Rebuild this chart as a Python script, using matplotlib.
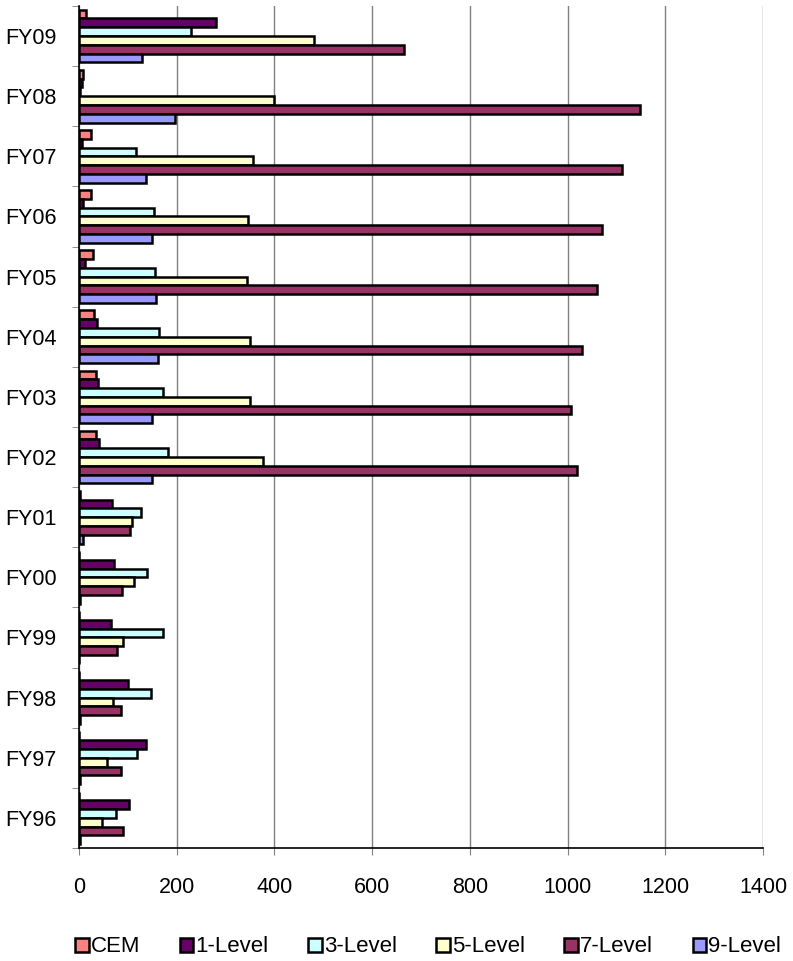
import numpy as np
import matplotlib.pyplot as plt

plt.rcParams['font.family'] = ['Liberation Sans', 'DejaVu Sans']

years = ["FY09", "FY08", "FY07", "FY06", "FY05", "FY04", "FY03",
         "FY02", "FY01", "FY00", "FY99", "FY98", "FY97", "FY96"]
series = ["CEM", "1-Level", "3-Level", "5-Level", "7-Level", "9-Level"]
colors = ["#FF8080", "#660066", "#CCFFFF", "#FFFFCC", "#993366", "#9999FF"]

cem = [15, 9, 25, 25, 28, 30, 35, 35, 2, 1, 1, 1, 0, 0]
lvl1 = [281, 6, 6, 9, 13, 37, 39, 41, 68, 71, 66, 101, 138, 103]
lvl3 = [230, 3, 116, 153, 155, 163, 171, 183, 126, 139, 172, 148, 118, 76]
lvl5 = [481, 399, 357, 346, 344, 351, 351, 376, 109, 113, 90, 69, 57, 47]
lvl7 = [666, 1148, 1112, 1070, 1060, 1030, 1008, 1020, 104, 88, 77, 86, 86, 90]
lvl9 = [129, 196, 137, 150, 157, 161, 150, 150, 9, 2, 0, 2, 2, 2]
data = [cem, lvl1, lvl3, lvl5, lvl7, lvl9]

fig = plt.figure(figsize=(7.93, 9.61), dpi=100)
ax = fig.add_axes([0.0996, 0.1176, 0.8626, 0.8762])

y = np.arange(len(years))
h = 0.146
for j, (vals, name, c) in enumerate(zip(data, series, colors)):
    ax.barh(y + (j - 2.5) * h, vals, height=h, color=c, edgecolor="black",
            linewidth=1.8, label=name, zorder=3)

ax.set_xlim(0, 1400)
ax.set_ylim(len(years) - 0.5, -0.5)
ax.set_xticks(np.arange(0, 1401, 200))
ax.set_yticks(y)
ax.set_yticklabels(years)
ax.set_yticks(np.arange(-0.5, len(years), 1), minor=True)
ax.tick_params(axis="y", which="major", length=0, pad=16, labelsize=15.5)
ax.tick_params(axis="y", which="minor", length=5, color="#808080")
ax.tick_params(axis="x", length=5, color="#808080", pad=16, labelsize=15.5)
ax.grid(axis="x", color="#808080", linewidth=1, zorder=0)
for s in ["top", "right"]:
    ax.spines[s].set_visible(False)
ax.spines["left"].set_linewidth(1.2)
ax.spines["bottom"].set_linewidth(1.2)

fig.legend(*ax.get_legend_handles_labels(), loc="center",
           bbox_to_anchor=(0.54, 0.0146), ncol=6, frameon=False,
           fontsize=16, handlelength=0.6, handleheight=0.6,
           handletextpad=0.1, columnspacing=1.78, borderaxespad=0,
           borderpad=0)

fig.savefig("out.png", dpi=100)
